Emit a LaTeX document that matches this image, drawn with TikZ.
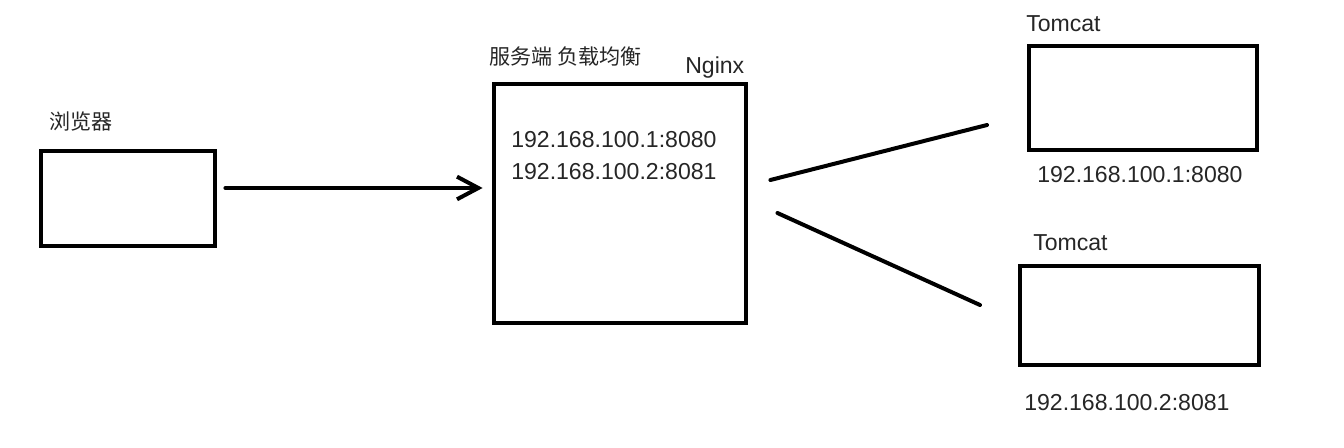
\documentclass[tikz,border=0pt]{standalone}
\usepackage{fontspec}
\setmainfont{Liberation Sans}
\newfontfamily\cjk{Noto Sans CJK SC}
\usetikzlibrary{arrows.meta,calc}
\tikzset{
  box/.style={draw=black, line width=3.6pt, fill=white, inner sep=0pt},
  lbl/.style={inner sep=0pt, anchor=west, text=black!85, font=\fontsize{17.3}{19}\selectfont},
  cjklbl/.style={inner sep=0pt, anchor=west, text=black!85, font=\cjk\fontsize{15.8}{17}\selectfont},
  conn/.style={line width=3pt, line cap=round, black},
}
\begin{document}
\begin{tikzpicture}[x=0.75pt, y=-0.75pt]
\useasboundingbox (0,0) rectangle (1344,448);
\fill[white] (0,0) rectangle (1344,448);
% boxes
\node[box, minimum width=174*0.75pt, minimum height=95*0.75pt] (browser) at (128,198.5) {};
\node[box, minimum width=252*0.75pt, minimum height=239*0.75pt] (nginx) at (620,203.5) {};
\node[box, minimum width=228*0.75pt, minimum height=104*0.75pt] (tc1) at (1143,98) {};
\node[box, minimum width=239*0.75pt, minimum height=99*0.75pt] (tc2) at (1139.5,315.5) {};
% labels
\node[cjklbl] (lbrowser) at (49,122) {浏览器};
\node[cjklbl] (lserver) at (489,57) {服务端 负载均衡};
\node[lbl] (lnginx) at (685,68) {Nginx};
\node[lbl] (ip1in) at (511,140) {192.168.100.1:8080};
\node[lbl] (ip2in) at (511,172) {192.168.100.2:8081};
\node[lbl] (ltc1) at (1026,24) {Tomcat};
\node[lbl] (ip1) at (1037,175) {192.168.100.1:8080};
\node[lbl] (ltc2) at (1033,243) {Tomcat};
\node[lbl] (ip2) at (1024,403) {192.168.100.2:8081};
% connectors
\coordinate (a1) at ($(browser.east)+(8,-10.5)$);
\coordinate (a2) at ($(nginx.west)+(-9,-15.5)$);
\draw[conn, -{Straight Barb[length=16pt, width=17pt, line width=3pt]}] (a1) -- (a2);
\coordinate (l1s) at ($(nginx.east)+(22,-23.5)$);
\coordinate (l1e) at (987,125);
\coordinate (l2s) at ($(nginx.east)+(29,9.5)$);
\coordinate (l2e) at (980,305);
\draw[conn] (l1s) -- (l1e);
\draw[conn] (l2s) -- (l2e);
\end{tikzpicture}
\end{document}
